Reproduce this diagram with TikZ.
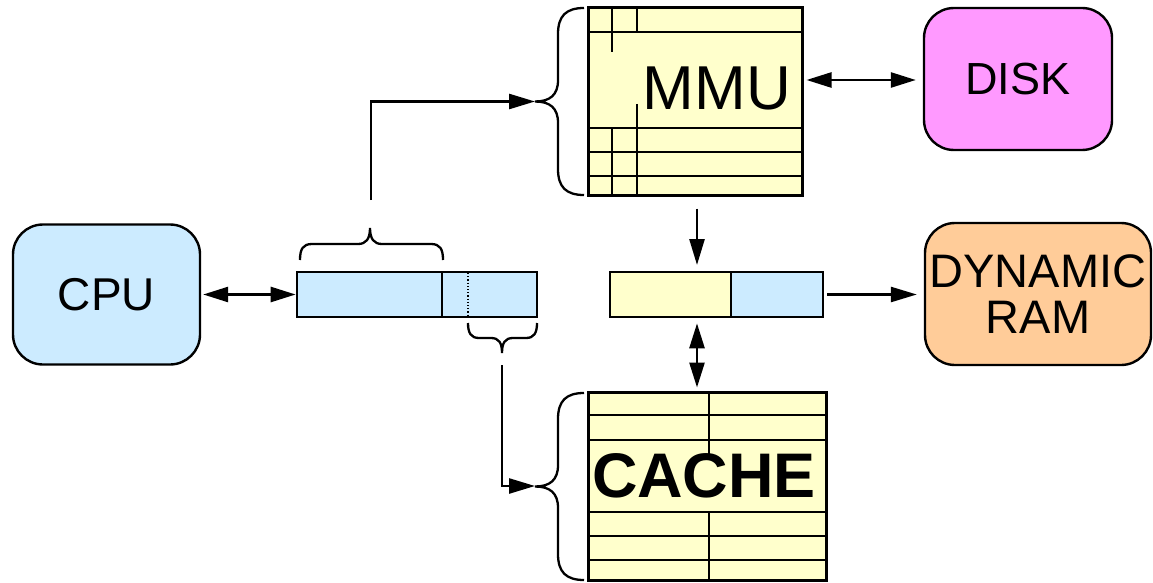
\documentclass[tikz,border=0pt]{standalone}
\usepackage{fontspec}
\setmainfont{Liberation Sans}
\usetikzlibrary{arrows.meta}
\definecolor{paleblue}{RGB}{204,235,255}
\definecolor{paleyellow}{RGB}{255,255,204}
\definecolor{diskpink}{RGB}{255,153,255}
\definecolor{ramorange}{RGB}{255,204,153}
\tikzset{
  unitbox/.style={draw, line width=2.4pt, rounded corners=30pt, inner sep=0pt, align=center},
  fieldbox/.style={draw, line width=2.7pt, inner sep=0pt, minimum height=45pt},
  lookup/.style={draw, line width=3pt, fill=paleyellow, inner sep=0pt},
  rowline/.style={line width=2.7pt},
  curly/.style={line width=2.3pt},
  wire/.style={line width=2.6pt},
  onehead/.style={-{Triangle[length=26pt,width=15pt]}},
  twohead/.style={{Triangle[length=25pt,width=15pt]}-{Triangle[length=25pt,width=15pt]}},
}
\begin{document}
\begin{tikzpicture}[x=1pt,y=-1pt]
\useasboundingbox (0,0) rectangle (1153,583);

% functional units
\node[unitbox, fill=paleblue, minimum width=187pt, minimum height=140pt,
      font=\fontsize{46}{48}\selectfont] (cpu) at (106.5,294.5) {CPU};
\node[unitbox, fill=diskpink, minimum width=188pt, minimum height=142pt,
      font=\fontsize{45}{48}\selectfont] (disk) at (1018,79) {DISK};
\node[unitbox, fill=ramorange, minimum width=226pt, minimum height=142pt,
      font=\fontsize{47}{46}\selectfont] (dram) at (1038,294) {DYNAMIC\\RAM};

% virtual address: page number and offset
\node[fieldbox, fill=paleblue, minimum width=145pt] (vpn) at (369.5,294.5) {};
\node[fieldbox, fill=paleblue, minimum width=95pt] (off) at (489.5,294.5) {};
\draw[line width=1.2pt, dotted] (468,273) -- (468,316);

% physical address: frame number and offset
\node[fieldbox, fill=paleyellow, minimum width=121pt] (pal) at (670.5,294.5) {};
\node[fieldbox, fill=paleblue, minimum width=92pt] (par) at (777,294.5) {};

% MMU table
\node[lookup, minimum width=214pt, minimum height=187pt] (mmu) at (695,101.5) {};
\foreach \y in {32,128,152,176} \draw[rowline] (588,\y) -- (802,\y);
\draw[rowline] (612,8) -- (612,52) (612,128) -- (612,195);
\draw[rowline] (637,8) -- (637,32) (637,104) -- (637,195);
\node[anchor=base, inner sep=0pt, font=\fontsize{62}{64}\selectfont] (mmulabel) at (717,110) {MMU};

% cache table
\node[lookup, minimum width=238pt, minimum height=188pt] (cache) at (707,486) {};
\foreach \y in {415,440,512,536,560} \draw[rowline] (588,\y) -- (826,\y);
\draw[rowline] (709,392) -- (709,460) (709,512) -- (709,580);
\node[anchor=base, inner sep=0pt, font=\fontsize{63}{65}\selectfont\bfseries] (cachelabel) at (704,497) {CACHE};

% braces
\draw[curly] (584,8) .. controls (566,8) and (558,16) .. (558,34) -- (558,80)
  .. controls (558,95) and (550,101.5) .. (535,101.5)
  .. controls (550,101.5) and (558,108) .. (558,123) -- (558,169)
  .. controls (558,187) and (566,195) .. (584,195);
\draw[curly] (584,393) .. controls (566,393) and (558,401) .. (558,419) -- (558,465)
  .. controls (558,480) and (550,486.5) .. (535,486.5)
  .. controls (550,486.5) and (558,493) .. (558,508) -- (558,554)
  .. controls (558,572) and (566,580) .. (584,580);
\draw[curly] (300,260) .. controls (300,249) and (303,244) .. (312,244) -- (358,244)
  .. controls (366,244) and (370,239) .. (370,228)
  .. controls (370,239) and (374,244) .. (382,244) -- (431,244)
  .. controls (440,244) and (443,249) .. (443,260);
\draw[curly] (468,323) .. controls (468,333) and (471,338) .. (479,338) -- (491,338)
  .. controls (499,338) and (502,343) .. (502,353)
  .. controls (502,343) and (505,338) .. (513,338) -- (526,338)
  .. controls (534,338) and (537,333) .. (537,323);

% ports
\coordinate (vpnout) at (371,200);
\coordinate (mmutip) at (535,101.5);
\coordinate (offout) at (502,365);
\coordinate (cachetip) at (535,486);
\coordinate (paport) at (697,272);

% connectors
\draw[wire, twohead, shorten <=2pt] (cpu.east) -- (vpn.west);
\draw[wire, onehead] (vpnout) |- (mmutip);
\draw[wire, onehead] (offout) |- (cachetip);
\draw[wire, twohead, shorten <=3pt, shorten >=7pt] (mmu.east |- 0,80) -- (disk.west |- 0,80);
\draw[wire, onehead, shorten <=12pt, shorten >=7pt] (mmu.south -| paport) -- (paport);
\draw[wire, twohead, shorten <=5pt, shorten >=3pt] (pal.south -| paport) -- (cache.north -| paport);
\draw[wire, onehead, shorten <=3pt, shorten >=7pt] (par.east) -- (dram.west |- par.east);
\end{tikzpicture}
\end{document}
